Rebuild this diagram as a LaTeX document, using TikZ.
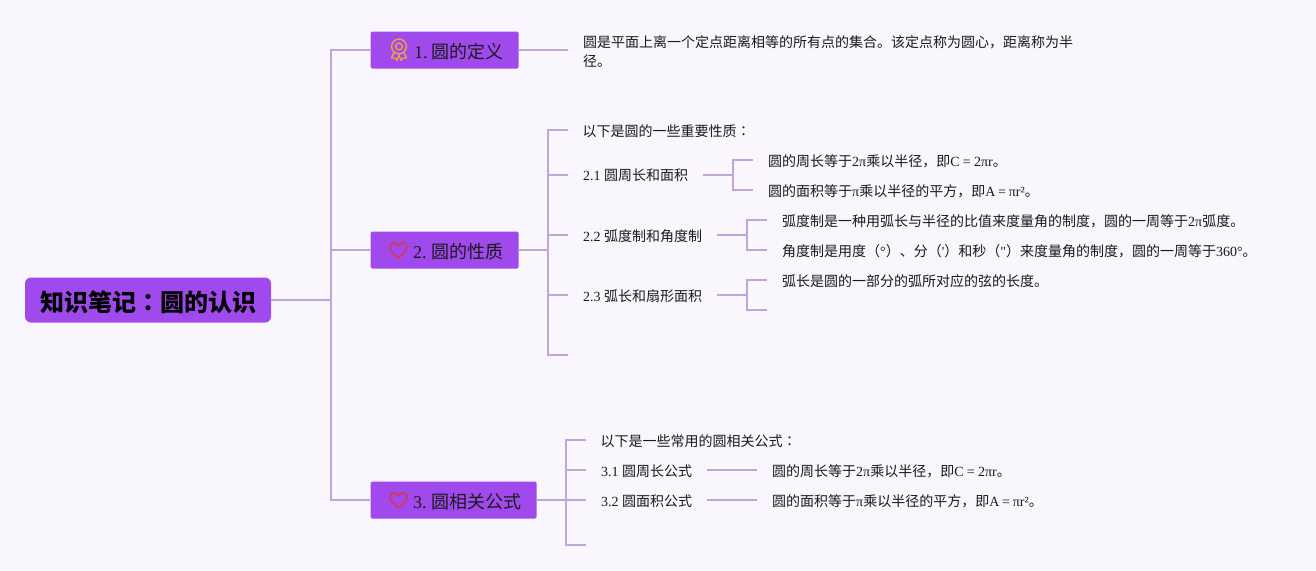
\documentclass[tikz,border=0pt]{standalone}
\usepackage{fontspec}
\setmainfont{Liberation Serif}
\newfontfamily\rawserif{Liberation Serif}
\newfontfamily\cj{Noto Sans CJK SC}
\newfontfamily\cjtc{Noto Sans CJK TC}
\definecolor{bgc}{HTML}{F9F6FE}
\definecolor{boxc}{HTML}{A04AEE}
\definecolor{linec}{HTML}{C0A6DA}
\definecolor{txtc}{HTML}{1A1A1A}
\definecolor{medalc}{HTML}{EFA33B}
\definecolor{heartc}{HTML}{D8364C}
\tikzset{
  x=1pt,y=-1pt,
  conn/.style={draw=linec,line width=1.5pt},
  rootbox/.style={fill=boxc,draw=none,rounded corners=6pt,minimum width=246pt,minimum height=45pt,inner sep=0pt,anchor=center},
  roottext/.style={anchor=center,inner sep=0pt,font=\fontsize{24}{24}\selectfont\cj\bfseries,text=black},
  mainbox/.style={fill=boxc,draw=none,rounded corners=1.5pt,minimum height=37pt,inner sep=0pt,anchor=center},
  maintext/.style={anchor=base west,inner sep=0pt,font=\fontsize{18}{18}\selectfont,text=txtc},
  body/.style={anchor=base west,inner sep=0pt,font=\fontsize{14}{17}\selectfont,text=txtc,align=left},
  medal/.style={draw=medalc,line width=1.4pt,fill=none,line join=round},
  heart/.style={draw=heartc,line width=1.5pt,fill=none,line join=round}
}
\begin{document}
\begin{tikzpicture}
\useasboundingbox (0,0) rectangle (1316,570);
\fill[bgc] (0,0) rectangle (1316,570);
% boxes
\node[rootbox] (root) at (148,300) {};
\node[roottext] (roott) at (148,302) {知识笔记{\cjtc ：}圆的认识};
\node[mainbox,minimum width=148pt] (n1) at (444.5,50) {};
\node[mainbox,minimum width=148pt] (n2) at (444.5,250) {};
\node[mainbox,minimum width=166pt] (n3) at (453.5,500) {};
\node[maintext] (t1) at (414,58) {1.\hspace{3.6pt}{\cj 圆的定义}};
\node[maintext] (t2) at (413,258) {2.\hspace{4.4pt}{\cj 圆的性质}};
\node[maintext] (t3) at (413,508) {3.\hspace{4.4pt}{\cj 圆相关公式}};
% icons
\draw[medal] (399,46.5) circle (7.4);
\draw[medal] (399,46.5) circle (3.4);
\draw[medal] (394,52.5) -- (391.5,58) -- (395,58) -- (397,60.5) -- (399,55) -- (401,60.5) -- (403,58) -- (406.5,58) -- (404,52.5);
\foreach \yy in {250,500}{
  \draw[heart] (398.5,\yy+8) .. controls (394,\yy+4) and (390,\yy+1.5) .. (390,\yy-3)
     .. controls (390,\yy-8) and (396.5,\yy-9) .. (398.5,\yy-4)
     .. controls (400.5,\yy-9) and (407,\yy-8) .. (407,\yy-3)
     .. controls (407,\yy+1.5) and (403,\yy+4) .. (398.5,\yy+8) -- cycle;
}
% text leaves
\node[body] (a1) at (583,47) {{\cj 圆是平面上离一个定点距离相等的所有点的集合。该定点称为圆心，距离称为半}};
\node[body] (a2) at (583,66) {{\cj 径。}};
\node[body] (b0) at (582.5,136) {{\cj 以下是圆的一些重要性质}{\cjtc ：}};
\node[body] (b1) at (583,180) {2.1 {\cj 圆周长和面积}};
\node[body] (b2) at (583,241) {2.2 {\cj 弧度制和角度制}};
\node[body] (b3) at (583,301) {2.3 {\cj 弧长和扇形面积}};
\node[body] (c1) at (768,166) {{\cj 圆的周长等于}2π{\cj 乘以半径，即}C\hspace{3.3pt}=\hspace{3.3pt}2πr{\cj 。}};
\node[body] (c2) at (768,196) {{\cj 圆的面积等于}π{\cj 乘以半径的平方，即}A\hspace{2.8pt}=\hspace{2.8pt}πr²{\cj 。}};
\node[body] (c3) at (782,226) {{\cj 弧度制是一种用弧长与半径的比值来度量角的制度，圆的一周等于}2π{\cj 弧度。}};
\node[body] (c4) at (782,256) {{\cj 角度制是用度（}°{\cj ）、分（}{\rawserif '}{\cj ）和秒（}{\rawserif "}{\cj ）来度量角的制度，圆的一周等于}360°{\cj 。}};
\node[body] (c5) at (782,286) {{\cj 弧长是圆的一部分的弧所对应的弦的长度。}};
\node[body] (d0) at (600.5,446) {{\cj 以下是一些常用的圆相关公式}{\cjtc ：}};
\node[body] (d1) at (601,476) {3.1 {\cj 圆周长公式}};
\node[body] (d2) at (601,506) {3.2 {\cj 圆面积公式}};
\node[body] (e1) at (772,476) {{\cj 圆的周长等于}2π{\cj 乘以半径，即}C\hspace{3.3pt}=\hspace{3.3pt}2πr{\cj 。}};
\node[body] (e2) at (772,506) {{\cj 圆的面积等于}π{\cj 乘以半径的平方，即}A\hspace{2.8pt}=\hspace{2.8pt}πr²{\cj 。}};
% free-end coordinates
\coordinate (tr) at (331,300);
\coordinate (tr1) at (331,50);
\coordinate (tr2) at (331,250);
\coordinate (tr3) at (331,500);
\coordinate (e1end) at (568,50);
% root connectors
\draw[conn] (root.east) -- (tr);
\draw[conn] (n1.west) -- (tr1) -- (tr3) -- (n3.west);
\draw[conn] (tr2) -- (n2.west);
\draw[conn] (n1.east) -- (e1end);
% branch 2
\coordinate (s2) at (548,250);
\foreach \yy/\nm in {130/p0,175/p1,235/p2,295/p3,355/p4}{
  \coordinate (\nm a) at (548,\yy);
  \coordinate (\nm b) at (568,\yy);
}
\draw[conn] (n2.east) -- (s2);
\draw[conn] (p0b) -- (p0a) -- (p4a) -- (p4b);
\draw[conn] (p1a) -- (p1b);
\draw[conn] (p2a) -- (p2b);
\draw[conn] (p3a) -- (p3b);
% 2.1
\coordinate (q1s) at (703,175); \coordinate (q1m) at (733,175);
\coordinate (q1a) at (733,160); \coordinate (q1b) at (753,160);
\coordinate (q1c) at (733,190); \coordinate (q1d) at (753,190);
\draw[conn] (q1s) -- (q1m);
\draw[conn] (q1b) -- (q1a) -- (q1c) -- (q1d);
% 2.2
\coordinate (q2s) at (717,235); \coordinate (q2m) at (747,235);
\coordinate (q2a) at (747,220); \coordinate (q2b) at (767,220);
\coordinate (q2c) at (747,250); \coordinate (q2d) at (767,250);
\draw[conn] (q2s) -- (q2m);
\draw[conn] (q2b) -- (q2a) -- (q2c) -- (q2d);
% 2.3
\coordinate (q3s) at (717,295); \coordinate (q3m) at (747,295);
\coordinate (q3a) at (747,280); \coordinate (q3b) at (767,280);
\coordinate (q3c) at (747,310); \coordinate (q3d) at (767,310);
\draw[conn] (q3s) -- (q3m);
\draw[conn] (q3b) -- (q3a) -- (q3c) -- (q3d);
% branch 3
\coordinate (s3) at (566,500);
\foreach \yy/\nm in {440/r0,470/r1,500/r2,545/r3}{
  \coordinate (\nm a) at (566,\yy);
  \coordinate (\nm b) at (586,\yy);
}
\draw[conn] (n3.east) -- (s3);
\draw[conn] (r0b) -- (r0a) -- (r3a) -- (r3b);
\draw[conn] (r1a) -- (r1b);
\draw[conn] (r2a) -- (r2b);
\coordinate (u1s) at (707,470); \coordinate (u1e) at (757,470);
\coordinate (u2s) at (707,500); \coordinate (u2e) at (757,500);
\draw[conn] (u1s) -- (u1e);
\draw[conn] (u2s) -- (u2e);
\end{tikzpicture}
\end{document}
